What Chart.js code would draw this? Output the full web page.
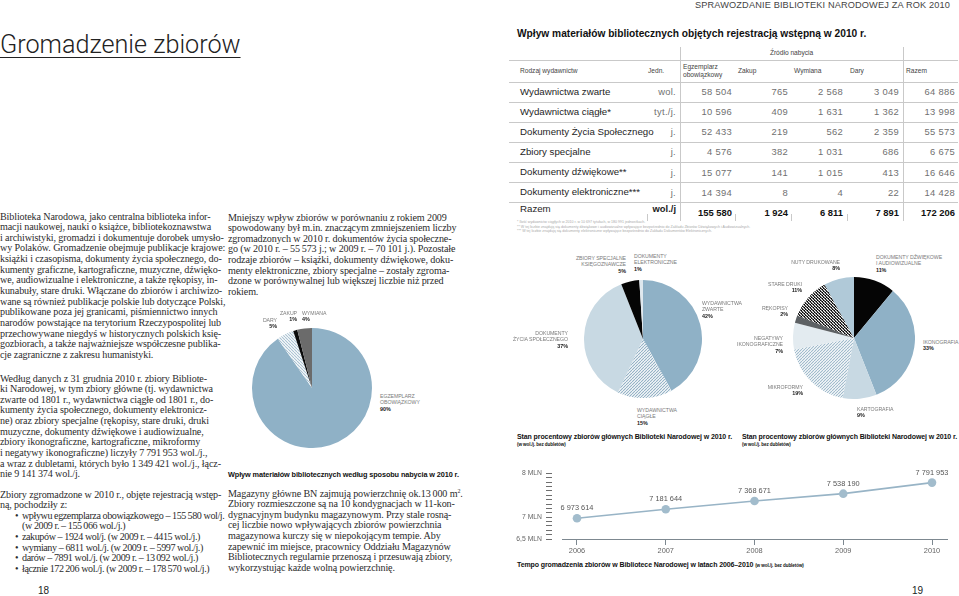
<!DOCTYPE html>
<html lang="pl">
<head>
<meta charset="utf-8">
<title>Gromadzenie zbiorów</title>
<script src="https://cdn.jsdelivr.net/npm/chart.js@4.4.1/dist/chart.umd.min.js"></script>
<style>
  html, body { margin: 0; padding: 0; background: #fff; }
  body { width: 959px; height: 596px; position: relative; overflow: hidden;
         font-family: "Liberation Sans", Arial, sans-serif; color: #222; }
  .abs { position: absolute; white-space: nowrap; }
  .serif { font-family: "Liberation Serif", "Times New Roman", serif; font-size: 10.1px;
           line-height: 10.65px; color: #2b2b2b; letter-spacing: -0.12px; }
  .serif ul { margin: 0; padding: 0 0 0 22px; list-style: none; letter-spacing: -0.42px; }
  .serif li { position: relative; }
  .serif li:before { content: "\2022"; position: absolute; left: -7px; }
  .cap { font-weight: bold; font-size: 7px; color: #111; letter-spacing: -0.1px; }
  .cap small { font-size: 4.6px; }
  .plab { font-size: 5.2px; line-height: 6.3px; color: #7b7b7b; letter-spacing: -0.05px; }
  .plab b { color: #222; font-size: 5.4px; }
  .tline { position: absolute; background: #c9c9c9; }
  .cell { position: absolute; white-space: nowrap; }
  .num { text-align: right; color: #707070; font-size: 9.4px; letter-spacing: 0.3px; }
  .lbl { color: #1e1e1e; font-size: 9.7px; }
  .hd { color: #444; font-size: 6.6px; line-height: 8px; }
</style>
</head>
<body>
<div class="abs" style="right:9px; top:0; font-size:9.2px; color:#444; letter-spacing:0.15px;">SPRAWOZDANIE BIBLIOTEKI NARODOWEJ ZA ROK 2010</div>
<div class="abs" style="left:0; top:29.5px; font-family:Roboto, 'Liberation Sans', sans-serif; font-weight:300; font-size:25.2px; color:#222; text-decoration:underline; text-decoration-thickness:1px; text-underline-offset:4px;">Gromadzenie zbiorów</div>

<div class="abs serif" style="left:0; top:211.5px;">
Biblioteka Narodowa, jako centralna biblioteka infor-<br>
macji naukowej, nauki o książce, bibliotekoznawstwa<br>
i archiwistyki, gromadzi i dokumentuje dorobek umysło-<br>
wy Polaków. Gromadzenie obejmuje publikacje krajowe:<br>
książki i czasopisma, dokumenty życia społecznego, do-<br>
kumenty graficzne, kartograficzne, muzyczne, dźwięko-<br>
we, audiowizualne i elektroniczne, a także rękopisy, in-<br>
kunabuły, stare druki. Włączane do zbiorów i archiwizo-<br>
wane są również publikacje polskie lub dotyczące Polski,<br>
publikowane poza jej granicami, piśmiennictwo innych<br>
narodów powstające na terytorium Rzeczypospolitej lub<br>
przechowywane niegdyś w historycznych polskich księ-<br>
gozbiorach, a także najważniejsze współczesne publika-<br>
cje zagraniczne z zakresu humanistyki.
</div>
<div class="abs serif" style="left:0; top:373.5px;">
Według danych z 31 grudnia 2010 r. zbiory Bibliote-<br>
ki Narodowej, w tym zbiory główne (tj. wydawnictwa<br>
zwarte od 1801 r., wydawnictwa ciągłe od 1801 r., do-<br>
kumenty życia społecznego, dokumenty elektronicz-<br>
ne) oraz zbiory specjalne (rękopisy, stare druki, druki<br>
muzyczne, dokumenty dźwiękowe i audiowizualne,<br>
zbiory ikonograficzne, kartograficzne, mikroformy<br>
i negatywy ikonograficzne) liczyły 7&#8239;791&#8239;953 wol./j.,<br>
a wraz z dubletami, których było 1&#8239;349&#8239;421 wol./j., łącz-<br>
nie 9&#8239;141&#8239;374 wol./j.
</div>
<div class="abs serif" style="left:0; top:489.5px;">
Zbiory zgromadzone w 2010 r., objęte rejestracją wstęp-<br>
ną, pochodziły z:
<ul>
<li>wpływu egzemplarza obowiązkowego – 155&#8239;580 wol/j.<br>(w 2009 r. – 155&#8239;066 wol./j.)</li>
<li>zakupów – 1924 wol/j. (w 2009 r. – 4415 wol./j.)</li>
<li>wymiany – 6811 wol./j. (w 2009 r. – 5997 wol./j.)</li>
<li>darów – 7891 wol./j. (w 2009 r. – 13&#8239;092 wol./j.)</li>
<li>łącznie 172&#8239;206 wol./j. (w 2009 r. – 178&#8239;570 wol./j.)</li>
</ul>
</div>
<div class="abs" style="left:38px; top:585px; font-size:10px; color:#222;">18</div>

<div class="abs serif" style="left:228px; top:212.5px;">
Mniejszy wpływ zbiorów w porównaniu z rokiem 2009<br>
spowodowany był m.in. znaczącym zmniejszeniem liczby<br>
zgromadzonych w 2010 r. dokumentów życia społeczne-<br>
go (w 2010 r. – 55&#8239;573 j.; w 2009 r. – 70&#8239;101 j.). Pozostałe<br>
rodzaje zbiorów – książki, dokumenty dźwiękowe, doku-<br>
menty elektroniczne, zbiory specjalne – zostały zgroma-<br>
dzone w porównywalnej lub większej liczbie niż przed<br>
rokiem.
</div>
<div class="abs cap" style="left:228px; top:470px; font-size:7.3px;">Wpływ materiałów bibliotecznych według sposobu nabycia w 2010 r.</div>
<div class="abs serif" style="left:228px; top:488.5px;">
Magazyny główne BN zajmują powierzchnię ok.13&#8239;000 m<sup style="font-size:6px; line-height:0;">2</sup>.<br>
Zbiory rozmieszczone są na 10 kondygnacjach w 11-kon-<br>
dygnacyjnym budynku magazynowym. Przy stale rosną-<br>
cej liczbie nowo wpływających zbiorów powierzchnia<br>
magazynowa kurczy się w niepokojącym tempie. Aby<br>
zapewnić im miejsce, pracownicy Oddziału Magazynów<br>
Bibliotecznych regularnie przenoszą i przesuwają zbiory,<br>
wykorzystując każde wolną powierzchnię.
</div>

<div class="abs" style="left:517px; top:27.5px; font-weight:bold; font-size:10.2px; color:#111;">Wpływ materiałów bibliotecznych objętych rejestracją wstępną w 2010 r.</div>
<div id="table"></div>
<div class="abs" style="left:517px; top:220px; font-size:3.6px; line-height:4.6px; color:#aaa;">
* Ilość wydawnictw ciągłych w 2010 r. w 10 697 tytułach, w 180 991 jednostkach.<br>
** W tej liczbie znajdują się dokumenty dźwiękowe i audiowizualne wpływające bezpośrednio do Zakładu Zbiorów Dźwiękowych i Audiowizualnych.<br>
*** W tej liczbie znajdują się dokumenty elektroniczne wpływające bezpośrednio do Zakładu Dokumentów Elektronicznych.
</div>

<canvas id="pieSource" class="abs" width="120" height="120" style="left:252px; top:328px;"></canvas>
<canvas id="pieMain" class="abs" width="118" height="118" style="left:584px; top:280px;"></canvas>
<canvas id="pieSpecial" class="abs" width="122" height="122" style="left:793px; top:277px;"></canvas>
<div id="pieLabels"></div>

<div class="abs cap" style="left:517px; top:433px;">Stan procentowy zbiorów głównych Biblioteki Narodowej w 2010 r.<br><small>(w wol./j. bez dubletów)</small></div>
<div class="abs cap" style="left:742px; top:433px;">Stan procentowy zbiorów głównych Biblioteki Narodowej w 2010 r.<br><small>(w wol./j. bez dubletów)</small></div>

<canvas id="growth" class="abs" width="459" height="100" style="left:500px; top:460px;"></canvas>
<div class="abs cap" style="left:517px; top:561px;">Tempo gromadzenia zbiorów w Bibliotece Narodowej w latach 2006–2010 <small>(w wol./j. bez dubletów)</small></div>
<div class="abs" style="left:912px; top:585px; font-size:10px; color:#222;">19</div>

<script>
// table: Wpływ materiałów bibliotecznych ... 2010
var tableKinds = ['Wydawnictwa zwarte', 'Wydawnictwa ciągłe*', 'Dokumenty Życia Społecznego', 'Zbiory specjalne', 'Dokumenty dźwiękowe**', 'Dokumenty elektroniczne***'];
var tableUnits = ['wol.', 'tyt./j.', 'j.', 'j.', 'j.', 'j.'];
var legalDeposit = [58504, 10596, 52433, 4576, 15077, 14394];
var purchase = [765, 409, 219, 382, 141, 8];
var exchange = [2568, 1631, 562, 1031, 1015, 4];
var gifts = [3049, 1362, 2359, 686, 413, 22];
var rowTotals = [64886, 13998, 55573, 6675, 16646, 14428];
var sumRow = [155580, 1924, 6811, 7891, 172206];

// pie: sposób nabycia
var sourceNames = ['EGZEMPLARZ\nOBOWIĄZKOWY', 'DARY', 'ZAKUP', 'WYMIANA'];
var sourceValues = [155580, 7891, 1924, 6811];

// pie: zbiory główne (%)
var mainNames = ['WYDAWNICTWA\nZWARTE', 'WYDAWNICTWA\nCIĄGŁE', 'DOKUMENTY\nŻYCIA SPOŁECZNEGO', 'ZBIORY SPECJALNE\nKSIĘGOZNAWCZE', 'DOKUMENTY\nELEKTRONICZNE'];
var mainValues = [42, 15, 37, 5, 1];

// pie: zbiory specjalne (%)
var specialNames = ['DOKUMENTY DŹWIĘKOWE\nI AUDIOWIZUALNE', 'IKONOGRAFIA', 'KARTOGRAFIA', 'MIKROFORMY', 'NEGATYWY\nIKONOGRAFICZNE', 'RĘKOPISY', 'STARE DRUKI', 'NUTY DRUKOWANE'];
var specialValues = [11, 33, 9, 19, 7, 2, 11, 8];

// line: stan zbiorów
var years = [2006, 2007, 2008, 2009, 2010];
var holdings = [6973614, 7181644, 7368671, 7538190, 7791953];
var yLabelValues = [6.5, 7, 8];
var yLabelTexts = ['6,5 MLN', '7 MLN', '8 MLN'];

var BLUE = '#8fb1c6';

function fmt(n) {
  return String(n).replace(/\B(?=(\d{3})+(?!\d))/g, ' ');
}

function el(tag, cls, style, html) {
  var e = document.createElement(tag);
  if (cls) e.className = cls;
  e.style.cssText = style;
  if (html != null) e.innerHTML = html;
  return e;
}

// --- table
(function() {
  var t = document.getElementById('table');
  var colRight = [676, 732, 788, 843, 899, 955];
  var line = function(x, y, w, h) { t.appendChild(el('div', 'tline', 'left:' + x + 'px;top:' + y + 'px;width:' + w + 'px;height:' + h + 'px;')); };
  line(680, 47, 1, 174);
  line(903, 47, 1, 174);
  line(680, 60, 223, 1);
  line(509, 60, 449, 1);
  t.appendChild(el('div', 'cell hd', 'left:680px;width:223px;text-align:center;top:49px;', 'Źródło nabycia'));
  var heads = ['Rodzaj wydawnictw', 'Jedn.', 'Egzemplarz<br>obowiązkowy', 'Zakup', 'Wymiana', 'Dary', 'Razem'];
  var headX = [520, 648, 683, 738, 794, 850, 906];
  heads.forEach(function(h, i) {
    var two = h.indexOf('<br>') >= 0;
    t.appendChild(el('div', 'cell hd', 'left:' + headX[i] + 'px;top:' + (two ? 63 : 67) + 'px;', h));
  });
  var rowH = 20.1, top0 = 81.5;
  tableKinds.forEach(function(k, r) {
    var y = top0 + r * rowH;
    line(509, y, 449, 1);
    var cy = y + 4;
    t.appendChild(el('div', 'cell lbl', 'left:520px;top:' + cy + 'px;', k));
    var vals = [tableUnits[r], fmt(legalDeposit[r]), fmt(purchase[r]), fmt(exchange[r]), fmt(gifts[r]), fmt(rowTotals[r])];
    vals.forEach(function(v, c) {
      t.appendChild(el('div', 'cell num', 'right:' + (959 - colRight[c]) + 'px;top:' + (cy + 0.6) + 'px;', v));
    });
  });
  var yS = top0 + 6 * rowH;
  line(509, yS, 449, 1);
  t.appendChild(el('div', 'cell lbl', 'left:520px;top:' + (yS + 1) + 'px;', 'Razem'));
  t.appendChild(el('div', 'cell', 'right:' + (959 - 676) + 'px;top:' + (yS + 0.5) + 'px;font-weight:bold;font-size:9.4px;', 'wol./j'));
  sumRow.forEach(function(v, c) {
    t.appendChild(el('div', 'cell', 'right:' + (959 - colRight[c + 1]) + 'px;top:' + (yS + 4.5) + 'px;font-weight:bold;font-size:9.4px;color:#111;', fmt(v)));
  });
  [647, 735, 791, 847].forEach(function(x) { line(x, yS + 12, 1, 7); });
})();

// --- pies
function stripes(bg, fg, slash, gap, lw) {
  var c = document.createElement('canvas');
  c.width = gap; c.height = gap;
  var x = c.getContext('2d');
  x.fillStyle = bg; x.fillRect(0, 0, gap, gap);
  x.strokeStyle = fg; x.lineWidth = lw;
  x.beginPath();
  for (var k = -1; k <= 1; k++) {
    if (slash) { x.moveTo(k * gap, gap); x.lineTo(k * gap + gap, 0); }
    else { x.moveTo(k * gap, 0); x.lineTo(k * gap + gap, gap); }
  }
  x.stroke();
  return x.createPattern(c, 'repeat');
}

function makePie(id, values, colors) {
  return new Chart(document.getElementById(id), {
    type: 'pie',
    data: { labels: values.map(function(v, i) { return i; }),
      datasets: [{ data: values, backgroundColor: colors, borderWidth: 0, hoverOffset: 0 }] },
    options: { responsive: false, animation: false, layout: { padding: 0 },
      plugins: { legend: { display: false }, tooltip: { enabled: false } } }
  });
}

makePie('pieSource', sourceValues, [BLUE, stripes('#ffffff', '#a9c2d2', false, 3, 1.1), '#0c0c0c', '#6b6b6b']);
makePie('pieMain', mainValues, [BLUE, stripes('#ffffff', '#90afc3', true, 3, 1.1), '#c8d9e3', '#050505', '#dfe8ee']);
makePie('pieSpecial', specialValues, ['#050505', BLUE, '#c8d9e3', stripes('#ffffff', '#9cb8ca', true, 3, 1.1), '#e3ebf0', '#5d6164', stripes('#000000', '#ffffff', false, 3.5, 1.2), '#b0c9d8']);

function pct(values, i) {
  var s = values.reduce(function(a, b) { return a + b; }, 0);
  return Math.round(values[i] / s * 100) + '%';
}

// label anchors (x, y of first line, align)
var pieLabelSpots = [
  ['src', 0, 380, 393, 'left'], ['src', 1, 277, 317, 'right'], ['src', 2, 297, 310, 'right'], ['src', 3, 302, 310, 'left'],
  ['main', 0, 702, 300, 'left'], ['main', 1, 637, 407, 'left'], ['main', 2, 568, 330, 'right'], ['main', 3, 626, 255, 'right'], ['main', 4, 634, 253, 'left'],
  ['spec', 0, 876, 254, 'left'], ['spec', 1, 923, 339, 'left'], ['spec', 2, 857, 406, 'left'], ['spec', 3, 803, 384, 'right'],
  ['spec', 4, 783, 335, 'right'], ['spec', 5, 788, 305, 'right'], ['spec', 6, 802, 281, 'right'], ['spec', 7, 840, 259, 'right']
];
(function() {
  var box = document.getElementById('pieLabels');
  var sets = { src: [sourceNames, sourceValues], main: [mainNames, mainValues], spec: [specialNames, specialValues] };
  pieLabelSpots.forEach(function(p) {
    var names = sets[p[0]][0], vals = sets[p[0]][1];
    var html = names[p[1]].replace(/\n/g, '<br>') + '<br><b>' + pct(vals, p[1]) + '</b>';
    var pos = p[4] === 'left' ? 'left:' + p[2] + 'px;' : 'right:' + (959 - p[2]) + 'px;';
    box.appendChild(el('div', 'abs plab', pos + 'top:' + p[3] + 'px;text-align:' + p[4] + ';', html));
  });
})();

// --- line chart
var valueLabels = {
  id: 'valueLabels',
  afterDatasetsDraw: function(chart) {
    var ctx = chart.ctx;
    var meta = chart.getDatasetMeta(0);
    ctx.save();
    ctx.font = '7.4px "Liberation Sans", Arial, sans-serif';
    ctx.fillStyle = '#555';
    ctx.textAlign = 'center';
    ctx.textBaseline = 'middle';
    meta.data.forEach(function(pt, i) {
      ctx.fillText(fmt(holdings[i]), pt.x, pt.y - 10);
    });
    ctx.restore();
  }
};

new Chart(document.getElementById('growth'), {
  type: 'line',
  data: {
    datasets: [{
      data: years.map(function(y, i) { return { x: y, y: holdings[i] / 1e6 }; }),
      borderColor: '#98b4c6', borderWidth: 1.6,
      pointRadius: 4.3, pointBackgroundColor: '#a2bccc', pointBorderColor: '#a2bccc', pointBorderWidth: 0,
      tension: 0, clip: false
    }]
  },
  options: {
    responsive: false, animation: false,
    layout: { padding: { top: 13.5, right: 12, left: 0, bottom: 0 } },
    plugins: { legend: { display: false }, tooltip: { enabled: false } },
    scales: {
      x: {
        type: 'linear', min: 2005.831, max: 2010.169,
        afterBuildTicks: function(axis) { axis.ticks = years.map(function(y) { return { value: y }; }); },
        afterFit: function(axis) { axis.height = 21; },
        border: { display: true, color: '#7d8890', width: 1 },
        grid: { drawOnChartArea: false, tickLength: 6, color: '#7d8890' },
        ticks: { padding: 2, font: { size: 7.4, family: '"Liberation Sans", Arial, sans-serif' }, color: '#666',
          callback: function(v) { return String(v); } }
      },
      y: {
        min: 6.5, max: 8,
        afterFit: function(axis) { axis.width = 62; },
        border: { display: false },
        grid: { drawOnChartArea: false, tickLength: 16, color: '#6f6f6f', tickBorderDash: [6, 10] },
        ticks: { stepSize: 0.1, autoSkip: false, padding: 4, color: '#666',
          font: { size: 6.8, family: '"Liberation Sans", Arial, sans-serif' },
          callback: function(v) {
            for (var i = 0; i < yLabelValues.length; i++) {
              if (Math.abs(v - yLabelValues[i]) < 1e-6) return yLabelTexts[i];
            }
            return '';
          } }
      }
    }
  },
  plugins: [valueLabels]
});
</script>
</body>
</html>
